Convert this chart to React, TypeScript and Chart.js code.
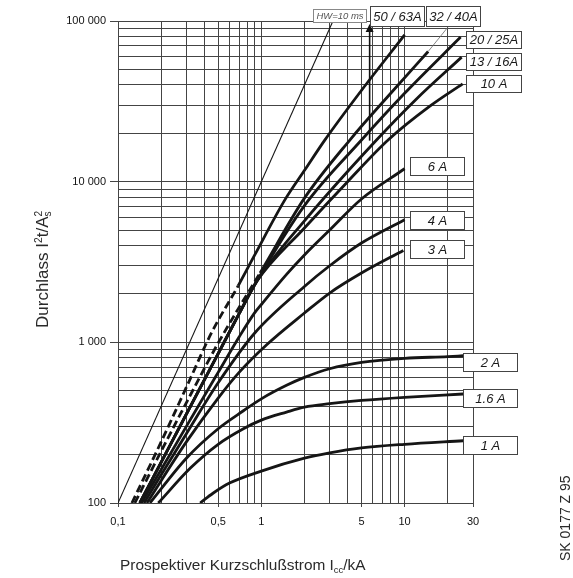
import React, { useEffect, useRef } from "react";
import { Chart, registerables } from "chart.js";

Chart.register(...registerables);

const FONT = "'Liberation Sans', Arial, Helvetica, sans-serif";

// ---------- data: x = prospective short-circuit current (kA), y = let-through I²t (A²s)
const hwCurrent = [0.1, 3.162];
const hwLetThrough = [100, 100000];

const mcb50Current = [0.125, 0.2, 0.31, 0.45, 0.69, 0.9, 1.46, 2.02, 2.78, 5, 10];
const mcb50LetThrough = [100, 240, 560, 1150, 2250, 3500, 7700, 11900, 18200, 37000, 82000];
const mcb50DashedUpTo = 0.69;

const mcb32Current = [0.131, 0.2, 0.32, 0.5, 0.7, 0.98, 2, 4.16, 8, 14.6];
const mcb32LetThrough = [100, 210, 470, 990, 1650, 2700, 7900, 18230, 35500, 64600];
const mcb32DashedUpTo = 0.98;

// common lower branch of the 10 A … 25 A curves
const bundleCurrent = [0.142, 0.3, 0.5, 0.7, 0.93];
const bundleLetThrough = [100, 357, 851, 1508, 2400];

const mcb20Current = [2, 5.02, 10, 24.6];
const mcb20LetThrough = [7100, 18230, 35500, 79400];

const mcb13Current = [2, 6.39, 12, 25];
const mcb13LetThrough = [5700, 18230, 32500, 59600];

const mcb10Current = [2, 4, 7.7, 15, 25.4];
const mcb10LetThrough = [5150, 10000, 18230, 29500, 40650];

const mcb6Current = [0.146, 0.3, 0.5, 0.7, 0.9, 1, 1.5, 2, 3, 5, 10];
const mcb6LetThrough = [100, 300, 650, 1080, 1530, 1720, 2650, 3500, 5000, 7800, 12030];

const mcb4Current = [0.152, 0.3, 0.5, 0.9, 2, 3, 5, 10];
const mcb4LetThrough = [100, 270, 560, 1143, 2228, 2997, 4150, 5795];

const mcb3Current = [0.159, 0.3, 0.5, 0.7, 1.09, 2, 3, 5, 9.8];
const mcb3LetThrough = [100, 240, 450, 650, 966, 1522, 2027, 2699, 3732];

const mcb2Current = [0.167, 0.3, 0.5, 0.75, 1, 1.5, 2, 3, 5, 10, 20, 25.6];
const mcb2LetThrough = [100, 190, 290, 375, 445, 540, 605, 685, 750, 795, 815, 825];

const mcb16Current = [0.191, 0.32, 0.5, 0.75, 1, 1.5, 2, 3, 5, 10, 25.6];
const mcb16LetThrough = [100, 165, 232, 290, 328, 368, 395, 415, 435, 455, 477];

const mcb1Current = [0.374, 0.46, 0.6, 1, 2, 3, 5, 10, 25.6];
const mcb1LetThrough = [100, 115, 133, 158, 190, 205, 220, 232, 244];

// breaking-capacity arrow (kA) and its vertical extent (A²s)
const arrowCurrent = 5.7;
const arrowFrom = 18000;
const arrowTo = 100000;

// ---------- axes
const xGridValues = [0.1, 0.2, 0.3, 0.4, 0.5, 0.6, 0.7, 0.8, 0.9, 1, 2, 3, 4, 5, 6, 7, 8, 9, 10, 20, 30];
const xLabelValues = [0.1, 0.5, 1, 5, 10, 30];
const xLabelTexts = ["0,1", "0,5", "1", "5", "10", "30"];

const yDecades = [100, 1000, 10000];
const yDecadeSteps = [1, 2, 3, 4, 5, 6, 7, 8, 9];
const yGridValues = [...yDecades.flatMap((d) => yDecadeSteps.map((s) => s * d)), 100000];
const yLabelValues = [100, 1000, 10000, 100000];
const yLabelTexts = ["100", "1 000", "10 000", "100 000"];

// ---------- annotation layout (pixels)
const labelBoxes = [
  { text: "50 / 63A", x: 370.5, y: 6.5, w: 54, h: 20 },
  { text: "32 / 40A", x: 426.5, y: 6.5, w: 54, h: 20 },
  { text: "20 / 25A", x: 466.5, y: 31.5, w: 55, h: 17 },
  { text: "13 / 16A", x: 466.5, y: 53.5, w: 55, h: 17 },
  { text: "10 A", x: 466.5, y: 75.5, w: 55, h: 17 },
  { text: "6 A", x: 410.5, y: 157.5, w: 54, h: 18 },
  { text: "4 A", x: 410.5, y: 211.5, w: 54, h: 18 },
  { text: "3 A", x: 410.5, y: 240.5, w: 54, h: 18 },
  { text: "2 A", x: 463.5, y: 353.5, w: 54, h: 18 },
  { text: "1.6 A", x: 463.5, y: 389.5, w: 54, h: 18 },
  { text: "1 A", x: 463.5, y: 436.5, w: 54, h: 18 },
];
const hwBox = { text: "HW=10 ms", x: 313.5, y: 9.5, w: 53, h: 13 };
const leaderTarget = { x: 448, y: 27 };

const pts = (xs: number[], ys: number[]) => xs.map((x, i) => ({ x, y: ys[i] }));

type Part = { t: string; scale?: number; shift?: number; stack?: boolean };

function drawRich(ctx: CanvasRenderingContext2D, parts: Part[], x: number, y: number, size: number) {
  let cx = x;
  let lastStart = x;
  for (const p of parts) {
    const s = size * (p.scale ?? 1);
    ctx.font = `${s}px ${FONT}`;
    const w = ctx.measureText(p.t).width;
    const start = p.stack ? lastStart : cx;
    ctx.fillText(p.t, start, y + (p.shift ?? 0) * size);
    if (p.stack) {
      cx = Math.max(cx, start + w);
    } else {
      lastStart = start;
      cx = start + w;
    }
  }
}

const annotationPlugin = {
  id: "annotations",
  afterDatasetsDraw(chart: any) {
    const ctx: CanvasRenderingContext2D = chart.ctx;
    const xs = chart.scales.x;
    const ys = chart.scales.y;
    ctx.save();

    // leader line for 32 / 40A
    const endX = xs.getPixelForValue(mcb32Current[mcb32Current.length - 1]);
    const endY = ys.getPixelForValue(mcb32LetThrough[mcb32LetThrough.length - 1]);
    ctx.strokeStyle = "#666";
    ctx.lineWidth = 0.8;
    ctx.beginPath();
    ctx.moveTo(endX, endY);
    ctx.lineTo(leaderTarget.x, leaderTarget.y);
    ctx.stroke();

    // arrow
    const ax = xs.getPixelForValue(arrowCurrent);
    const aTop = ys.getPixelForValue(arrowTo) + 3;
    const aBottom = ys.getPixelForValue(arrowFrom);
    ctx.strokeStyle = "#111";
    ctx.lineWidth = 1.6;
    ctx.beginPath();
    ctx.moveTo(ax, aBottom);
    ctx.lineTo(ax, aTop + 6);
    ctx.stroke();
    ctx.fillStyle = "#111";
    ctx.beginPath();
    ctx.moveTo(ax, aTop);
    ctx.lineTo(ax - 4, aTop + 8);
    ctx.lineTo(ax + 4, aTop + 8);
    ctx.closePath();
    ctx.fill();

    // label boxes
    for (const b of labelBoxes) {
      ctx.fillStyle = "#fff";
      ctx.fillRect(b.x, b.y, b.w, b.h);
      ctx.strokeStyle = "#444";
      ctx.lineWidth = 1;
      ctx.strokeRect(b.x, b.y, b.w, b.h);
      ctx.fillStyle = "#1a1a1a";
      ctx.font = `italic 13px ${FONT}`;
      ctx.textAlign = "center";
      ctx.textBaseline = "middle";
      ctx.fillText(b.text, b.x + b.w / 2, b.y + b.h / 2 + 0.5);
    }

    // HW box
    ctx.fillStyle = "#fff";
    ctx.fillRect(hwBox.x, hwBox.y, hwBox.w, hwBox.h);
    ctx.strokeStyle = "#888";
    ctx.lineWidth = 1;
    ctx.strokeRect(hwBox.x, hwBox.y, hwBox.w, hwBox.h);
    ctx.fillStyle = "#555";
    ctx.font = `italic 9.5px ${FONT}`;
    ctx.textAlign = "center";
    ctx.textBaseline = "middle";
    ctx.fillText(hwBox.text, hwBox.x + hwBox.w / 2, hwBox.y + hwBox.h / 2 + 0.5);

    ctx.restore();
  },
  afterDraw(chart: any) {
    const ctx: CanvasRenderingContext2D = chart.ctx;
    ctx.save();
    ctx.fillStyle = "#2a2a2a";
    ctx.textAlign = "left";
    ctx.textBaseline = "alphabetic";

    // y-axis title (rotated)
    ctx.save();
    ctx.translate(48, 328);
    ctx.rotate(-Math.PI / 2);
    drawRich(
      ctx,
      [
        { t: "Durchlass I" },
        { t: "2", scale: 0.6, shift: -0.38 },
        { t: "t/A" },
        { t: "2", scale: 0.6, shift: -0.38 },
        { t: "s", scale: 0.6, shift: 0.2, stack: true },
      ],
      0,
      0,
      17
    );
    ctx.restore();

    // x-axis title
    drawRich(
      ctx,
      [
        { t: "Prospektiver Kurzschlußstrom I" },
        { t: "cc", scale: 0.62, shift: 0.2 },
        { t: "/kA" },
      ],
      120,
      570,
      15.4
    );

    // drawing reference number
    ctx.save();
    ctx.translate(570, 561);
    ctx.rotate(-Math.PI / 2);
    ctx.font = `14px ${FONT}`;
    ctx.fillText("SK 0177 Z 95", 0, 0);
    ctx.restore();

    ctx.restore();
  },
};

const curveStyle = {
  borderColor: "#151515",
  borderWidth: 2.8,
  pointRadius: 0,
  fill: false,
  cubicInterpolationMode: "monotone" as const,
};

export default function App() {
  const canvasRef = useRef<HTMLCanvasElement | null>(null);

  useEffect(() => {
    if (!canvasRef.current) return;
    const dash = (limit: number) => ({
      borderDash: (c: any) => (c.p1.parsed.x <= limit + 1e-9 ? [8, 4] : undefined),
    });

    const chart = new Chart(canvasRef.current, {
      type: "line",
      data: {
        datasets: [
          { label: "HW=10 ms", data: pts(hwCurrent, hwLetThrough), borderColor: "#151515", borderWidth: 1.1, pointRadius: 0, fill: false },
          { label: "50 / 63A", data: pts(mcb50Current, mcb50LetThrough), ...curveStyle, segment: dash(mcb50DashedUpTo) },
          { label: "32 / 40A", data: pts(mcb32Current, mcb32LetThrough), ...curveStyle, segment: dash(mcb32DashedUpTo) },
          { label: "20 / 25A", data: pts([...bundleCurrent, ...mcb20Current], [...bundleLetThrough, ...mcb20LetThrough]), ...curveStyle },
          { label: "13 / 16A", data: pts([...bundleCurrent, ...mcb13Current], [...bundleLetThrough, ...mcb13LetThrough]), ...curveStyle },
          { label: "10 A", data: pts([...bundleCurrent, ...mcb10Current], [...bundleLetThrough, ...mcb10LetThrough]), ...curveStyle },
          { label: "6 A", data: pts(mcb6Current, mcb6LetThrough), ...curveStyle },
          { label: "4 A", data: pts(mcb4Current, mcb4LetThrough), ...curveStyle },
          { label: "3 A", data: pts(mcb3Current, mcb3LetThrough), ...curveStyle },
          { label: "2 A", data: pts(mcb2Current, mcb2LetThrough), ...curveStyle },
          { label: "1.6 A", data: pts(mcb16Current, mcb16LetThrough), ...curveStyle },
          { label: "1 A", data: pts(mcb1Current, mcb1LetThrough), ...curveStyle },
        ],
      },
      options: {
        animation: false,
        responsive: false,
        devicePixelRatio: 1,
        layout: { padding: { top: 21, right: 100, left: 0, bottom: 0 } },
        plugins: { legend: { display: false }, tooltip: { enabled: false } },
        events: [],
        scales: {
          x: {
            type: "logarithmic",
            min: 0.1,
            max: 30,
            afterBuildTicks: (s: any) => {
              s.ticks = xGridValues.map((v) => ({ value: v }));
            },
            afterFit: (s: any) => {
              s.height = 75;
            },
            ticks: {
              autoSkip: false,
              maxRotation: 0,
              minRotation: 0,
              padding: 8,
              color: "#111",
              font: { family: FONT, size: 11 },
              callback: (v: any) => {
                const i = xLabelValues.findIndex((lv) => Math.abs(lv - Number(v)) < 1e-9);
                return i >= 0 ? xLabelTexts[i] : "";
              },
            },
            grid: {
              color: "#444",
              lineWidth: 1,
              drawTicks: true,
              tickLength: 4,
              tickColor: (c: any) =>
                xLabelValues.some((lv) => Math.abs(lv - c.tick?.value) < 1e-9) ? "#444" : "rgba(0,0,0,0)",
            },
            border: { display: true, color: "#444", width: 1 },
          },
          y: {
            type: "logarithmic",
            min: 100,
            max: 100000,
            afterBuildTicks: (s: any) => {
              s.ticks = yGridValues.map((v) => ({ value: v }));
            },
            afterFit: (s: any) => {
              s.width = 118;
            },
            ticks: {
              autoSkip: false,
              padding: 4,
              color: "#111",
              font: { family: FONT, size: 11 },
              callback: (v: any) => {
                const i = yLabelValues.findIndex((lv) => Math.abs(lv - Number(v)) < 1e-6);
                return i >= 0 ? yLabelTexts[i] : "";
              },
            },
            grid: {
              color: "#444",
              lineWidth: 1,
              drawTicks: true,
              tickLength: 8,
              tickColor: (c: any) =>
                yLabelValues.some((lv) => Math.abs(lv - c.tick?.value) < 1e-6) ? "#444" : "rgba(0,0,0,0)",
            },
            border: { display: true, color: "#444", width: 1 },
          },
        },
      },
      plugins: [annotationPlugin],
    } as any);

    return () => chart.destroy();
  }, []);

  return (
    <div style={{ position: "absolute", left: 0, top: 0, width: 573, height: 578, background: "#fff" }}>
      <canvas ref={canvasRef} width={573} height={578} style={{ display: "block", width: 573, height: 578 }} />
    </div>
  );
}
